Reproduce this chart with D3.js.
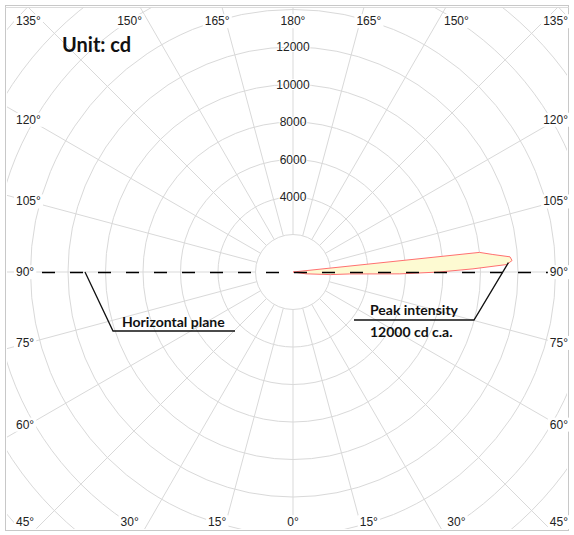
<!DOCTYPE html>
<html>
<head>
<meta charset="utf-8">
<script src="https://cdnjs.cloudflare.com/ajax/libs/d3/7.8.5/d3.min.js"></script>
<style>
body { margin: 0; background: #fff; }
svg { display: block; font-family: "Liberation Sans", Arial, sans-serif; }
.grid { fill: none; stroke: #d9d9d9; stroke-width: 1; }
.angle-label, .ring-label { font-size: 12px; fill: #222; }
.note { font-family: Lato, "DejaVu Sans", sans-serif; font-weight: bold; font-size: 14px; fill: #111; }
</style>
</head>
<body>
<svg width="574" height="535"></svg>
<script>
// grid values (cd) and angle ticks (degrees, 0 = straight down)
var ringValues = [2000, 4000, 6000, 8000, 10000, 12000, 14000, 16000, 18000, 20000, 22000];
var ringLabels = [4000, 6000, 8000, 10000, 12000];
var angleTicks = [0, 15, 30, 45, 60, 75, 90, 105, 120, 135, 150, 165, 180];

// luminous intensity curve
var curveAngles = [0, 80, 82, 86, 88, 89, 90, 91, 92, 93, 94, 95, 96, 97, 180];
var curveCd     = [0, 0, 700, 2000, 3000, 5700, 7800, 9600, 11400, 11700, 11600, 10700, 10000, 0, 0];

var svg = d3.select("svg");
var width = +svg.attr("width");
var height = +svg.attr("height");

var cx = 293, cy = 272;
var r = d3.scaleLinear().domain([0, 12000]).range([0, 225]);

// polar -> screen, side = 1 right half, -1 left half
function pt(theta, side, rad) {
    var a = theta * Math.PI / 180;
    return [cx + side * Math.sin(a) * rad, cy + Math.cos(a) * rad];
}

// frame + clip
svg.append("defs").append("clipPath").attr("id", "frame")
    .append("rect").attr("x", 7).attr("y", 7).attr("width", 560).attr("height", 522);

svg.append("rect")
    .attr("x", 5.5).attr("y", 5.5).attr("width", 563).attr("height", 525)
    .attr("fill", "none").attr("stroke", "#c8c8c8");
svg.append("line")
    .attr("x1", 5.5).attr("x2", 568.5).attr("y1", 7.5).attr("y2", 7.5)
    .attr("stroke", "#dcdcdc");

var grid = svg.append("g").attr("clip-path", "url(#frame)");

grid.selectAll("circle.ring")
    .data(ringValues)
    .enter().append("circle")
        .attr("class", "grid ring")
        .attr("cx", cx).attr("cy", cy)
        .attr("r", function(d) { return r(d); });

// spokes on both halves, from the 2000 ring outward
var spokes = [];
angleTicks.forEach(function(a) {
    spokes.push({a: a, side: 1});
    if (a !== 0 && a !== 180) spokes.push({a: a, side: -1});
});

grid.selectAll("line.spoke")
    .data(spokes)
    .enter().append("line")
        .attr("class", "grid spoke")
        .attr("x1", function(d) { return pt(d.a, d.side, r(2000))[0]; })
        .attr("y1", function(d) { return pt(d.a, d.side, r(2000))[1]; })
        .attr("x2", function(d) { return pt(d.a, d.side, r(24000))[0]; })
        .attr("y2", function(d) { return pt(d.a, d.side, r(24000))[1]; });

// intensity curve
var curveData = curveAngles.map(function(a, i) { return {a: a, cd: curveCd[i]}; });
var line = d3.line()
    .x(function(d) { return pt(d.a, 1, r(d.cd))[0]; })
    .y(function(d) { return pt(d.a, 1, r(d.cd))[1]; });

svg.append("path")
    .attr("d", line(curveData) + "Z")
    .attr("fill", "#fdfad2")
    .attr("stroke", "#ff7070")
    .attr("stroke-width", 1);

// horizontal plane, dashed
svg.append("line")
    .attr("x1", 5).attr("x2", 569)
    .attr("y1", cy + 0.5).attr("y2", cy + 0.5)
    .attr("stroke", "#000")
    .attr("stroke-width", 1.4)
    .attr("stroke-dasharray", "13,15")
    .attr("stroke-dashoffset", 19);

// ring labels up the 180 spoke
svg.selectAll("text.ring-label")
    .data(ringLabels)
    .enter().append("text")
        .attr("class", "ring-label")
        .attr("x", cx)
        .attr("y", function(d) { return cy - r(d); })
        .attr("dy", "0.35em")
        .attr("text-anchor", "middle")
        .attr("stroke", "#fff").attr("stroke-width", 2).attr("paint-order", "stroke")
        .text(function(d) { return d; });

// angle labels round the frame
var labels = spokes.map(function(d) {
    var a = d.a * Math.PI / 180;
    var dx = d.side * Math.sin(a), dy = Math.cos(a);
    var tSide = Math.abs(dx) > 1e-6 ? 264 / Math.abs(dx) : Infinity;
    var tTop = Math.abs(dy) > 1e-6 ? 283 / Math.abs(dy) : Infinity;
    var o = {text: d.a + "°"};
    if (tSide <= tTop) {
        o.x = d.side < 0 ? 16 : 568;
        o.anchor = d.side < 0 ? "start" : "end";
        o.y = Math.max(21, Math.min(522, cy + dy * tSide));
    } else {
        o.x = cx + dx * tTop;
        o.anchor = "middle";
        o.y = dy < 0 ? 21 : 522;
    }
    return o;
});

var lg = svg.selectAll("g.angle-label")
    .data(labels)
    .enter().append("g")
        .attr("class", "angle-label");

lg.append("text")
    .attr("x", function(d) { return d.x; })
    .attr("y", function(d) { return d.y; })
    .attr("dy", "0.35em")
    .attr("text-anchor", function(d) { return d.anchor; })
    .text(function(d) { return d.text; });

lg.each(function() {
    var g = d3.select(this);
    var b = g.select("text").node().getBBox();
    g.insert("rect", "text")
        .attr("x", b.x - 2).attr("y", b.y)
        .attr("width", b.width + 4).attr("height", b.height)
        .attr("fill", "#fff");
});

// title
svg.append("text")
    .attr("class", "note")
    .attr("x", 62).attr("y", 52)
    .style("font-size", "20px")
    .text("Unit: cd");

// annotations
var ann = svg.append("g").attr("fill", "none").attr("stroke", "#111").attr("stroke-width", 1.3);

ann.append("polyline")
    .attr("points", [[85, cy], [113, 331], [235, 331]].join(" "));

var peak = pt(92.5, 1, r(11500));
ann.append("polyline")
    .attr("points", [peak, [474, 320], [354, 320]].join(" "));

svg.append("text").attr("class", "note")
    .attr("x", 122).attr("y", 327)
    .text("Horizontal plane");
svg.append("text").attr("class", "note")
    .attr("x", 370).attr("y", 315)
    .text("Peak intensity");
svg.append("text").attr("class", "note")
    .attr("x", 370).attr("y", 337)
    .text("12000 cd c.a.");
</script>
</body>
</html>
